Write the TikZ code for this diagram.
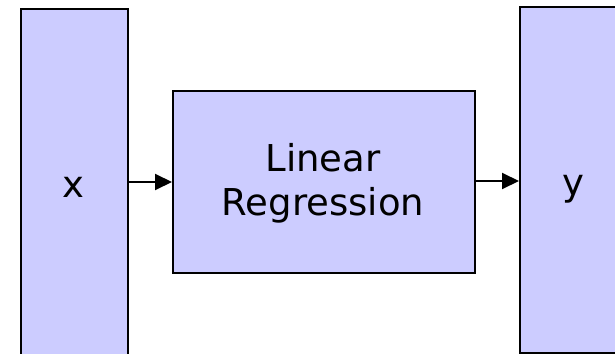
\documentclass[tikz,border=0pt]{standalone}
\usepackage{fontspec}
\setmainfont{DejaVu Sans}
\usetikzlibrary{arrows.meta}
\definecolor{boxfill}{RGB}{204,204,255}
\begin{document}
\begin{tikzpicture}[x=1pt,y=-1pt,
  block/.style={draw=black, line width=2pt, fill=boxfill, rectangle, inner sep=0pt},
  lbl/.style={font=\fontsize{37}{44}\selectfont, align=center, inner sep=0pt},
  flow/.style={line width=2pt, -{Triangle[length=17pt,width=16pt]}}]
  \useasboundingbox (0,0) rectangle (615,353);
  \clip (0,0) rectangle (615,353);
  % input column, model block, output column
  \node[block, minimum width=107pt, minimum height=400pt, anchor=north west] (inp) at (20,8) {};
  \node[block, minimum width=302pt, minimum height=182pt, anchor=north west] (model) at (172,90) {};
  \node[block, minimum width=200pt, minimum height=346pt, anchor=north west] (out) at (519,6) {};
  % labels
  \node[lbl, anchor=base] (xl) at (73,197) {x};
  \node[lbl] (ml) at (323,183) {Linear\\Regression};
  \node[lbl, anchor=base] (yl) at (573,195) {y};
  % connectors
  \draw[flow] (inp.east |- 0,182) -- (model.west |- 0,182);
  \draw[flow] (model.east |- 0,181) -- (out.west |- 0,181);
\end{tikzpicture}
\end{document}
